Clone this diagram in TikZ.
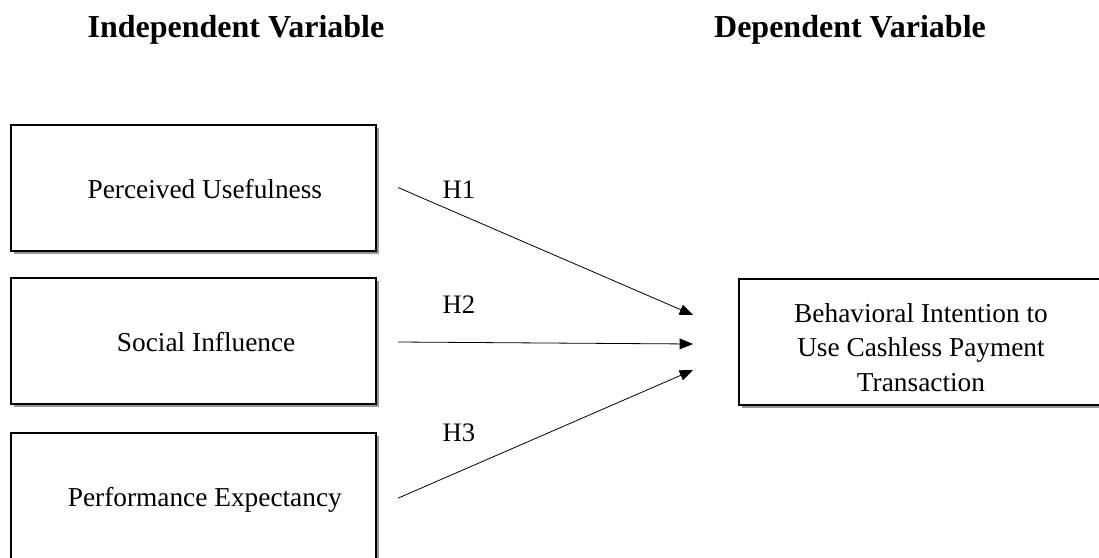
\documentclass[tikz,border=0pt]{standalone}
\usepackage{fontspec}
\setmainfont{Liberation Serif}
\usetikzlibrary{arrows.meta,shadows}

\begin{document}
\begin{tikzpicture}[x=0.75pt,y=-0.75pt,
    varbox/.style={rectangle,draw,line width=1.5pt,fill=white,
      minimum width=273.75pt,minimum height=94.5pt,inner sep=0pt,
      drop shadow={shadow xshift=2.4pt,shadow yshift=-2.6pt,opacity=0.55,fill=black!75}},
    boxtext/.style={align=center,inner sep=0pt,font=\fontsize{20.5}{26}\selectfont},
    heading/.style={font=\fontsize{24}{28}\selectfont\bfseries},
    hyp/.style={font=\fontsize{20}{24}\selectfont},
    link/.style={line width=0.6pt,-{Triangle[length=10pt,width=8pt]}}]
      \useasboundingbox (0,0) rectangle (1099,557);
      \clip (0,0) rectangle (1099,557);

      \node [heading] (ivtitle) at (236,30) {Independent Variable};
      \node [heading] (dvtitle) at (850,30) {Dependent Variable};

      % boxes
      \node [varbox] (pu) at (193.5,187.5) {};
      \node [varbox] (si) at (193.5,341) {};
      \node [varbox] (pe) at (193.5,495.5) {};
      \node [varbox] (bi) at (921,341.5) {};

      % box labels sit a little right of centre
      \node [boxtext] (pu-text) at ([xshift=8.5pt,yshift=-1pt]pu.center) {Perceived Usefulness};
      \node [boxtext] (si-text) at ([xshift=9.5pt,yshift=-1pt]si.center) {Social Influence};
      \node [boxtext] (pe-text) at ([xshift=8.5pt,yshift=-3pt]pe.center) {Performance Expectancy};
      \node [boxtext] (bi-text) at ([yshift=-4.5pt]bi.center) {Behavioral Intention to\\Use Cashless Payment\\Transaction};

      % arrow tips stop short of the intention box
      \coordinate (in1) at (693,315);
      \coordinate (in2) at (693,344);
      \coordinate (in3) at (693,370);

      \draw [link] ([xshift=15.75pt]pu.east) -- (in1);
      \draw [link] ([xshift=15.75pt,yshift=-0.75pt]si.east) -- (in2);
      \draw [link] ([xshift=15.75pt,yshift=-2pt]pe.east) -- (in3);

      \node [hyp] (h1) at (459,190) {H1};
      \node [hyp] (h2) at (459,305) {H2};
      \node [hyp] (h3) at (459,433) {H3};
    \end{tikzpicture}
\end{document}
